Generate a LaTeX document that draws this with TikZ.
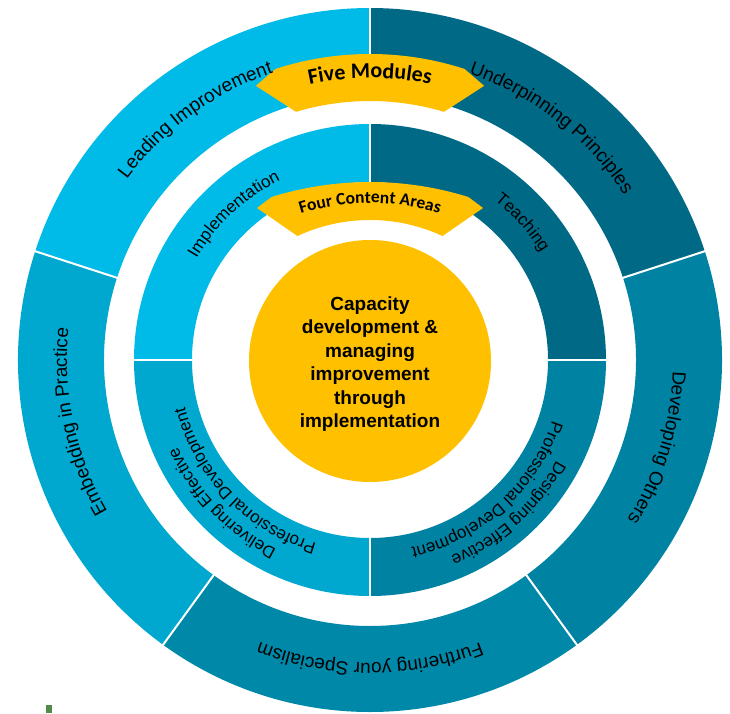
\documentclass[tikz,border=0pt]{standalone}
\usepackage{fontspec}
\setmainfont{Liberation Sans}
\newfontfamily\calibri{Carlito}
\usepackage{tikz}
\usetikzlibrary{decorations.text,calc}

\definecolor{skyblue}{RGB}{0,187,232}
\definecolor{deepteal}{RGB}{0,106,134}
\definecolor{midteal}{RGB}{0,130,163}
\definecolor{furtherteal}{RGB}{0,136,169}
\definecolor{oceanblue}{RGB}{0,168,208}
\definecolor{gold}{RGB}{255,192,0}
\definecolor{leafgreen}{RGB}{80,140,70}

\newcommand{\ringpart}[5]{%
  \fill[#5] (#3:#2) arc[start angle=#3, end angle=#4, radius=#2]
    -- (#4:#1) arc[start angle=#4, end angle=#3, radius=#1] -- cycle;}
\newcommand{\arclabel}[5]{%
  \path[arctext={|#1|#2}]
    (#3:#5) arc[start angle=#3, end angle=#4, radius=#5];}
\newcommand{\outerfont}{\fontsize{19}{22}\selectfont}
\newcommand{\innerfont}{\fontsize{17}{20}\selectfont}
\newcommand{\bannerfont}{\calibri\bfseries}

\begin{document}
\begin{tikzpicture}[x=1pt,y=1pt,
  arctext/.style={decorate, decoration={text along path, text align=center, text={#1}}},
  divider/.style={white, line width=2pt}]
\useasboundingbox (-370,-353) rectangle (360,360);
\fill[white] (-370,-353) rectangle (360,360);

% five modules
\ringpart{266}{352}{90}{162}{skyblue}
\ringpart{266}{352}{18}{90}{deepteal}
\ringpart{266}{352}{-54}{18}{midteal}
\ringpart{266}{352}{-126}{-54}{furtherteal}
\ringpart{266}{352}{162}{234}{oceanblue}
% four content areas
\ringpart{178}{236}{90}{180}{skyblue}
\ringpart{178}{236}{0}{90}{deepteal}
\ringpart{178}{236}{-90}{0}{midteal}
\ringpart{178}{236}{180}{270}{oceanblue}

\foreach \a in {90,18,-54,-126,162}
  \draw[divider] (\a:265) -- (\a:353);
\foreach \a in {0,90,180,270}
  \draw[divider] (\a:177) -- (\a:237);

% banners
\fill[gold] (108:306) arc[start angle=108, end angle=72, radius=306]
  -- (67.4:297) -- (73.4:259) arc[start angle=73.4, end angle=106.6, radius=259]
  -- (112.6:297) -- cycle;
\fill[gold] (-98.5,163) arc[start angle=107.3, end angle=72.7, radius=331]
  -- (113,152) -- (72.5,124) arc[start angle=65.1, end angle=114.9, radius=172.25]
  -- (-113,152) -- cycle;

\fill[gold] (0,-1) circle[radius=121];
\node[align=center, font=\bfseries\fontsize{19}{23.5}\selectfont] (core) at (0,-4)
  {Capacity\\development \&\\managing\\improvement\\through\\implementation};

\arclabel{\bannerfont\fontsize{22}{25}\selectfont}{Five Modules}{113}{67}{282}
\path[arctext={|\bannerfont\fontsize{17.5}{20}\selectfont|Four Content Areas}]
  ($(0,-71)+(115:228)$) arc[start angle=115, end angle=65, radius=228];

% outer labels
\arclabel{\outerfont}{Leading Improvement}{156}{96}{303}
\arclabel{\outerfont}{Underpinning Principles}{87}{17}{303}
\arclabel{\outerfont}{Developing Others}{13}{-47}{303}
\arclabel{\outerfont}{Furthering your Specialism}{-55}{-125}{303}
\arclabel{\outerfont}{Embedding in Practice}{222}{162}{303}

% inner labels
\arclabel{\innerfont}{Implementation}{163}{103}{201}
\arclabel{\innerfont}{Teaching}{72}{12}{202}
\arclabel{\innerfont}{Delivering Effective}{264}{184}{211}
\arclabel{\innerfont}{Professional Development}{264}{184}{191}
\arclabel{\innerfont}{Designing Effective}{-8}{-88}{212}
\arclabel{\innerfont}{Professional Development}{-8}{-88}{192}

\fill[leafgreen] (-324,-345) rectangle (-318,-353);
\end{tikzpicture}
\end{document}
